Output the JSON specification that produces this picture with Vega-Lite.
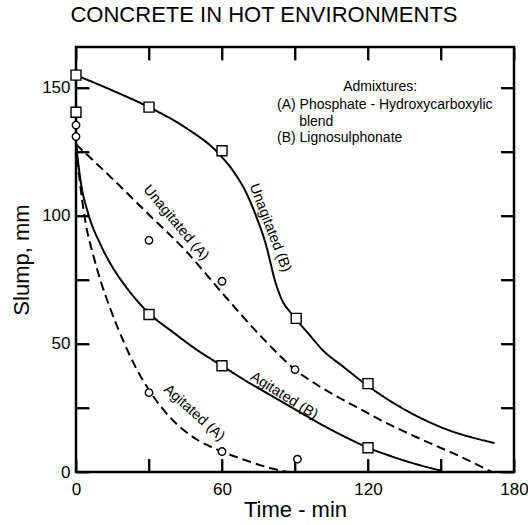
{
  "$schema": "https://vega.github.io/schema/vega-lite/v6.json",
  "width": 438,
  "height": 425,
  "autosize": {"type": "none"},
  "padding": {"left": 76, "top": 47, "right": 14, "bottom": 53},
  "background": "white",
  "title": {"text": "CONCRETE IN HOT ENVIRONMENTS", "fontSize": 22, "fontWeight": "normal", "color": "black", "anchor": "middle", "dx": -31, "offset": 19},
  "config": {
    "font": "Liberation Sans",
    "view": {"stroke": "black", "strokeWidth": 2.5},
    "axis": {"grid": false, "labelColor": "black", "titleColor": "black", "labelFlush": false, "labelOverlap": false, "labelFontSize": 17, "titleFontSize": 22, "titleFontWeight": "normal"}
  },
  "datasets": {
    "curves": [
      {"curve": "Unagitated (B)", "adm": "B", "t": 0, "slump": 155},
      {"curve": "Unagitated (B)", "adm": "B", "t": 15, "slump": 149},
      {"curve": "Unagitated (B)", "adm": "B", "t": 30, "slump": 142.5},
      {"curve": "Unagitated (B)", "adm": "B", "t": 45, "slump": 134.5},
      {"curve": "Unagitated (B)", "adm": "B", "t": 58, "slump": 125},
      {"curve": "Unagitated (B)", "adm": "B", "t": 65, "slump": 117},
      {"curve": "Unagitated (B)", "adm": "B", "t": 70, "slump": 109},
      {"curve": "Unagitated (B)", "adm": "B", "t": 74, "slump": 100},
      {"curve": "Unagitated (B)", "adm": "B", "t": 78, "slump": 89},
      {"curve": "Unagitated (B)", "adm": "B", "t": 82, "slump": 74},
      {"curve": "Unagitated (B)", "adm": "B", "t": 85, "slump": 66.5},
      {"curve": "Unagitated (B)", "adm": "B", "t": 88, "slump": 62.5},
      {"curve": "Unagitated (B)", "adm": "B", "t": 91, "slump": 59},
      {"curve": "Unagitated (B)", "adm": "B", "t": 96, "slump": 53.5},
      {"curve": "Unagitated (B)", "adm": "B", "t": 101, "slump": 48},
      {"curve": "Unagitated (B)", "adm": "B", "t": 110, "slump": 41},
      {"curve": "Unagitated (B)", "adm": "B", "t": 118, "slump": 35},
      {"curve": "Unagitated (B)", "adm": "B", "t": 133, "slump": 25.5},
      {"curve": "Unagitated (B)", "adm": "B", "t": 150, "slump": 17.5},
      {"curve": "Unagitated (B)", "adm": "B", "t": 172, "slump": 11.3},
      {"curve": "Unagitated (A)", "adm": "A", "t": 0, "slump": 128},
      {"curve": "Unagitated (A)", "adm": "A", "t": 15, "slump": 114.5},
      {"curve": "Unagitated (A)", "adm": "A", "t": 30, "slump": 100.5},
      {"curve": "Unagitated (A)", "adm": "A", "t": 45, "slump": 86.5},
      {"curve": "Unagitated (A)", "adm": "A", "t": 60, "slump": 70},
      {"curve": "Unagitated (A)", "adm": "A", "t": 77, "slump": 52},
      {"curve": "Unagitated (A)", "adm": "A", "t": 90, "slump": 40},
      {"curve": "Unagitated (A)", "adm": "A", "t": 100, "slump": 33.5},
      {"curve": "Unagitated (A)", "adm": "A", "t": 115, "slump": 25.5},
      {"curve": "Unagitated (A)", "adm": "A", "t": 130, "slump": 18},
      {"curve": "Unagitated (A)", "adm": "A", "t": 143, "slump": 12.3},
      {"curve": "Unagitated (A)", "adm": "A", "t": 158, "slump": 6},
      {"curve": "Unagitated (A)", "adm": "A", "t": 171, "slump": 0},
      {"curve": "Agitated (B)", "adm": "B", "t": 0, "slump": 128},
      {"curve": "Agitated (B)", "adm": "B", "t": 2, "slump": 113},
      {"curve": "Agitated (B)", "adm": "B", "t": 5, "slump": 101},
      {"curve": "Agitated (B)", "adm": "B", "t": 10, "slump": 89},
      {"curve": "Agitated (B)", "adm": "B", "t": 15, "slump": 80},
      {"curve": "Agitated (B)", "adm": "B", "t": 20, "slump": 73},
      {"curve": "Agitated (B)", "adm": "B", "t": 25, "slump": 67},
      {"curve": "Agitated (B)", "adm": "B", "t": 30, "slump": 62},
      {"curve": "Agitated (B)", "adm": "B", "t": 40, "slump": 54.5},
      {"curve": "Agitated (B)", "adm": "B", "t": 50, "slump": 47.5},
      {"curve": "Agitated (B)", "adm": "B", "t": 60, "slump": 41.5},
      {"curve": "Agitated (B)", "adm": "B", "t": 70, "slump": 35.5},
      {"curve": "Agitated (B)", "adm": "B", "t": 80, "slump": 30},
      {"curve": "Agitated (B)", "adm": "B", "t": 90, "slump": 24.5},
      {"curve": "Agitated (B)", "adm": "B", "t": 100, "slump": 19},
      {"curve": "Agitated (B)", "adm": "B", "t": 110, "slump": 14},
      {"curve": "Agitated (B)", "adm": "B", "t": 120, "slump": 9.5},
      {"curve": "Agitated (B)", "adm": "B", "t": 130, "slump": 6},
      {"curve": "Agitated (B)", "adm": "B", "t": 140, "slump": 3},
      {"curve": "Agitated (B)", "adm": "B", "t": 150, "slump": 0.5},
      {"curve": "Agitated (A)", "adm": "A", "t": 0, "slump": 128},
      {"curve": "Agitated (A)", "adm": "A", "t": 2, "slump": 110},
      {"curve": "Agitated (A)", "adm": "A", "t": 4, "slump": 97},
      {"curve": "Agitated (A)", "adm": "A", "t": 7, "slump": 85},
      {"curve": "Agitated (A)", "adm": "A", "t": 10, "slump": 75},
      {"curve": "Agitated (A)", "adm": "A", "t": 14, "slump": 64},
      {"curve": "Agitated (A)", "adm": "A", "t": 20, "slump": 50},
      {"curve": "Agitated (A)", "adm": "A", "t": 25, "slump": 40},
      {"curve": "Agitated (A)", "adm": "A", "t": 30, "slump": 32},
      {"curve": "Agitated (A)", "adm": "A", "t": 40, "slump": 20},
      {"curve": "Agitated (A)", "adm": "A", "t": 50, "slump": 12.5},
      {"curve": "Agitated (A)", "adm": "A", "t": 60, "slump": 8},
      {"curve": "Agitated (A)", "adm": "A", "t": 70, "slump": 4.5},
      {"curve": "Agitated (A)", "adm": "A", "t": 80, "slump": 1.5},
      {"curve": "Agitated (A)", "adm": "A", "t": 87, "slump": 0}
    ],
    "points": [
      {"adm": "B", "t": 0, "slump": 155},
      {"adm": "B", "t": 0, "slump": 140.5},
      {"adm": "B", "t": 30, "slump": 142.5},
      {"adm": "B", "t": 60, "slump": 125.5},
      {"adm": "B", "t": 90.5, "slump": 60},
      {"adm": "B", "t": 120, "slump": 34.5},
      {"adm": "B", "t": 30, "slump": 61.5},
      {"adm": "B", "t": 60, "slump": 41.5},
      {"adm": "B", "t": 120, "slump": 9.5},
      {"adm": "A", "t": 0, "slump": 135.5},
      {"adm": "A", "t": 0, "slump": 131},
      {"adm": "A", "t": 30, "slump": 90.5},
      {"adm": "A", "t": 60, "slump": 74.5},
      {"adm": "A", "t": 90, "slump": 40},
      {"adm": "A", "t": 30, "slump": 31},
      {"adm": "A", "t": 60, "slump": 8},
      {"adm": "A", "t": 91, "slump": 5}
    ],
    "ticks": [
      {"t": 30, "t2": 30, "s": 0, "s2": 5.1},
      {"t": 60, "t2": 60, "s": 0, "s2": 5.1},
      {"t": 90, "t2": 90, "s": 0, "s2": 5.1},
      {"t": 120, "t2": 120, "s": 0, "s2": 5.1},
      {"t": 150, "t2": 150, "s": 0, "s2": 5.1},
      {"t": 30, "t2": 30, "s": 166, "s2": 160.9},
      {"t": 60, "t2": 60, "s": 166, "s2": 160.9},
      {"t": 90, "t2": 90, "s": 166, "s2": 160.9},
      {"t": 120, "t2": 120, "s": 166, "s2": 160.9},
      {"t": 150, "t2": 150, "s": 166, "s2": 160.9},
      {"t": 0, "t2": 5.35, "s": 25, "s2": 25},
      {"t": 0, "t2": 5.35, "s": 50, "s2": 50},
      {"t": 0, "t2": 5.35, "s": 75, "s2": 75},
      {"t": 0, "t2": 5.35, "s": 100, "s2": 100},
      {"t": 0, "t2": 5.35, "s": 125, "s2": 125},
      {"t": 0, "t2": 5.35, "s": 150, "s2": 150},
      {"t": 180, "t2": 174.65, "s": 25, "s2": 25},
      {"t": 180, "t2": 174.65, "s": 50, "s2": 50},
      {"t": 180, "t2": 174.65, "s": 75, "s2": 75},
      {"t": 180, "t2": 174.65, "s": 100, "s2": 100},
      {"t": 180, "t2": 174.65, "s": 125, "s2": 125},
      {"t": 180, "t2": 174.65, "s": 150, "s2": 150}
    ],
    "labels": [
      {"label": "Unagitated (A)", "t": 41, "slump": 97.3},
      {"label": "Unagitated (B)", "t": 79.7, "slump": 95.3},
      {"label": "Agitated (B)", "t": 85.5, "slump": 29.7},
      {"label": "Agitated (A)", "t": 48.5, "slump": 23}
    ],
    "notes": [
      {"text": "Admixtures:", "t": 109.8, "slump": 150.4},
      {"text": "(A) Phosphate - Hydroxycarboxylic", "t": 82.6, "slump": 143.4},
      {"text": "blend", "t": 91.7, "slump": 136.7},
      {"text": "(B) Lignosulphonate", "t": 82.6, "slump": 130.5}
    ]
  },
  "resolve": {"axis": {"x": "independent", "y": "independent"}},
  "layer": [
    {
      "data": {"name": "curves"},
      "mark": {"type": "line", "interpolate": "monotone", "color": "black", "strokeWidth": 2},
      "encoding": {
        "x": {"field": "t", "type": "quantitative", "scale": {"domain": [0, 180], "nice": false},
          "axis": {"orient": "bottom", "values": [0, 30, 60, 90, 120, 150, 180], "labelExpr": "datum.value % 60 === 0 ? datum.label : ''", "ticks": true, "tickSize": 13, "tickColor": "black", "tickWidth": 1.8, "tickOpacity": 1, "offset": -13, "domain": false, "labelPadding": 9, "title": "Time - min", "titlePadding": 2}},
        "y": {"field": "slump", "type": "quantitative", "scale": {"domain": [0, 166], "nice": false},
          "axis": {"orient": "left", "values": [0, 25, 50, 75, 100, 125, 150], "labelExpr": "datum.value % 50 === 0 ? datum.label : ''", "ticks": true, "tickSize": 13, "tickColor": "black", "tickWidth": 1.8, "tickOpacity": 1, "offset": -13, "domain": false, "labelPadding": 6, "title": "Slump, mm", "titlePadding": 8}},
        "detail": {"field": "curve"},
        "order": {"field": "t", "type": "quantitative"},
        "strokeDash": {"field": "adm", "type": "nominal", "scale": {"domain": ["A", "B"], "range": [[9, 5], [1, 0]]}, "legend": null}
      }
    },
    {
      "data": {"name": "ticks"},
      "mark": {"type": "rule", "color": "black", "strokeWidth": 1.8},
      "encoding": {
        "x": {"field": "t", "type": "quantitative", "axis": null},
        "x2": {"field": "t2"},
        "y": {"field": "s", "type": "quantitative", "axis": null},
        "y2": {"field": "s2"}
      }
    },
    {
      "data": {"name": "points"},
      "mark": {"type": "point", "filled": false, "fill": "white", "fillOpacity": 1, "stroke": "black", "strokeWidth": 1.4, "opacity": 1},
      "encoding": {
        "x": {"field": "t", "type": "quantitative", "scale": {"domain": [0, 180], "nice": false},
          "axis": {"orient": "top", "values": [0, 30, 60, 90, 120, 150, 180], "labels": false, "ticks": true, "tickSize": 13, "tickColor": "black", "tickWidth": 1.8, "tickOpacity": 1, "offset": -13, "domain": false, "title": null}},
        "y": {"field": "slump", "type": "quantitative", "scale": {"domain": [0, 166], "nice": false},
          "axis": {"orient": "right", "values": [0, 25, 50, 75, 100, 125, 150], "labels": false, "ticks": true, "tickSize": 13, "tickColor": "black", "tickWidth": 1.8, "tickOpacity": 1, "offset": -13, "domain": false, "title": null}},
        "shape": {"field": "adm", "type": "nominal", "scale": {"domain": ["A", "B"], "range": ["circle", "square"]}, "legend": null},
        "size": {"field": "adm", "type": "nominal", "scale": {"domain": ["A", "B"], "range": [55, 100]}, "legend": null}
      }
    },
    {
      "data": {"name": "labels"},
      "transform": [{"filter": "datum.label === 'Unagitated (A)'"}],
      "mark": {"type": "text", "angle": 50, "fontSize": 14.5, "color": "black", "align": "center", "baseline": "middle"},
      "encoding": {
        "x": {"field": "t", "type": "quantitative", "axis": null},
        "y": {"field": "slump", "type": "quantitative", "axis": null},
        "text": {"field": "label"}
      }
    },
    {
      "data": {"name": "labels"},
      "transform": [{"filter": "datum.label === 'Unagitated (B)'"}],
      "mark": {"type": "text", "angle": 69, "fontSize": 14.5, "color": "black", "align": "center", "baseline": "middle"},
      "encoding": {
        "x": {"field": "t", "type": "quantitative", "axis": null},
        "y": {"field": "slump", "type": "quantitative", "axis": null},
        "text": {"field": "label"}
      }
    },
    {
      "data": {"name": "labels"},
      "transform": [{"filter": "datum.label === 'Agitated (B)'"}],
      "mark": {"type": "text", "angle": 32, "fontSize": 14.5, "color": "black", "align": "center", "baseline": "middle"},
      "encoding": {
        "x": {"field": "t", "type": "quantitative", "axis": null},
        "y": {"field": "slump", "type": "quantitative", "axis": null},
        "text": {"field": "label"}
      }
    },
    {
      "data": {"name": "labels"},
      "transform": [{"filter": "datum.label === 'Agitated (A)'"}],
      "mark": {"type": "text", "angle": 42, "fontSize": 14.5, "color": "black", "align": "center", "baseline": "middle"},
      "encoding": {
        "x": {"field": "t", "type": "quantitative", "axis": null},
        "y": {"field": "slump", "type": "quantitative", "axis": null},
        "text": {"field": "label"}
      }
    },
    {
      "data": {"name": "notes"},
      "mark": {"type": "text", "fontSize": 14, "color": "black", "align": "left", "baseline": "middle"},
      "encoding": {
        "x": {"field": "t", "type": "quantitative", "axis": null},
        "y": {"field": "slump", "type": "quantitative", "axis": null},
        "text": {"field": "text"}
      }
    }
  ]
}
